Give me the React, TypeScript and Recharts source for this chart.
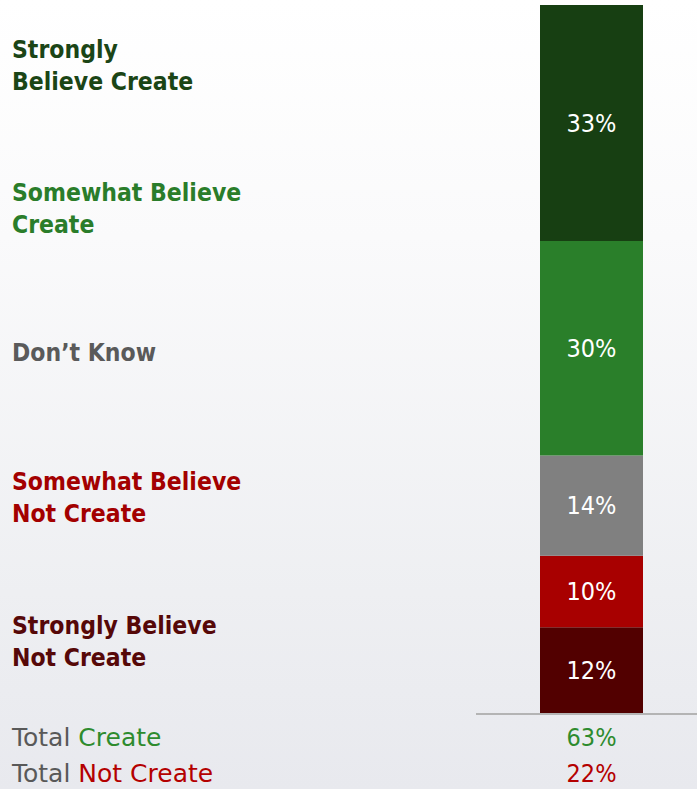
import React from "react";
import { BarChart, Bar, XAxis, YAxis, LabelList } from "recharts";

const categories = ["Opinion"];
const seriesNames = [
  "Strongly Believe Not Create",
  "Somewhat Believe Not Create",
  "Don't Know",
  "Somewhat Believe Create",
  "Strongly Believe Create",
];
const seriesValues = [12, 10, 14, 30, 33];
const seriesColors = ["#520000", "#a80000", "#808080", "#2a7f2a", "#173f12"];

const legendLines = [
  ["Strongly", "Believe Create"],
  ["Somewhat Believe", "Create"],
  ["Don\u2019t Know"],
  ["Somewhat Believe", "Not Create"],
  ["Strongly Believe", "Not Create"],
];
const legendColors = ["#1b4516", "#2a7d2a", "#5a5a5a", "#a30000", "#560808"];
const legendCenters = [50, 193, 353, 482, 626];

const totalNames = ["Create", "Not Create"];
const totalValues = [63, 22];
const totalColors = ["#2e8b2e", "#b40000"];
const totalCenters = [738, 774];

const data = categories.map((c) => {
  const row: Record<string, string | number> = { name: c };
  seriesNames.forEach((s, i) => (row[s] = seriesValues[i]));
  return row;
});

const condFont = "'DejaVu Sans Condensed', 'DejaVu Sans', sans-serif";
const plainFont = "'DejaVu Sans', sans-serif";

export default function App() {
  return (
    <div
      style={{
        position: "absolute",
        left: 0,
        top: 0,
        width: 697,
        height: 789,
        background: "linear-gradient(to bottom, #ffffff 0%, #fafafb 30%, #eeeff2 75%, #e8e9ee 100%)",
        overflow: "hidden",
      }}
    >
      <BarChart
        width={697}
        height={789}
        data={data}
        margin={{ top: 5, right: 0, bottom: 76, left: 476 }}
        barCategoryGap={0}
      >
        <XAxis dataKey="name" hide padding={{ left: 64, right: 54 }} />
        <YAxis hide domain={[0, 99]} />
        {seriesNames.map((s, i) => (
          <Bar key={s} dataKey={s} stackId="a" fill={seriesColors[i]} isAnimationActive={false}>
            <LabelList
              dataKey={s}
              position="center"
              formatter={(v: number) => `${v}%`}
              fill="#ffffff"
              style={{ fontFamily: condFont, fontStretch: "condensed", fontSize: 25 }}
            />
          </Bar>
        ))}
      </BarChart>
      <div
        style={{
          position: "absolute",
          left: 476,
          top: 713,
          width: 221,
          height: 2,
          background: "#b4b4b4",
        }}
      />
      {legendLines.map((lines, i) => (
        <div
          key={i}
          style={{
            position: "absolute",
            left: 12,
            top: legendCenters[i] - 16,
            fontFamily: condFont,
            fontStretch: "condensed",
            fontWeight: "bold",
            fontSize: 24.5,
            lineHeight: "32px",
            color: legendColors[i],
            whiteSpace: "nowrap",
          }}
        >
          {lines.map((l, j) => (
            <div key={j}>{l}</div>
          ))}
        </div>
      ))}
      {totalNames.map((n, i) => (
        <React.Fragment key={n}>
          <div
            style={{
              position: "absolute",
              left: 12,
              top: totalCenters[i] - 14,
              fontFamily: plainFont,
              fontSize: 25,
              lineHeight: "28px",
              whiteSpace: "nowrap",
              color: "#595959",
            }}
          >
            Total <span style={{ color: totalColors[i] }}>{n}</span>
          </div>
          <div
            style={{
              position: "absolute",
              left: 540,
              width: 103,
              textAlign: "center",
              top: totalCenters[i] - 14,
              fontFamily: condFont,
              fontStretch: "condensed",
              fontSize: 25,
              lineHeight: "28px",
              color: totalColors[i],
            }}
          >
            {totalValues[i]}%
          </div>
        </React.Fragment>
      ))}
    </div>
  );
}
